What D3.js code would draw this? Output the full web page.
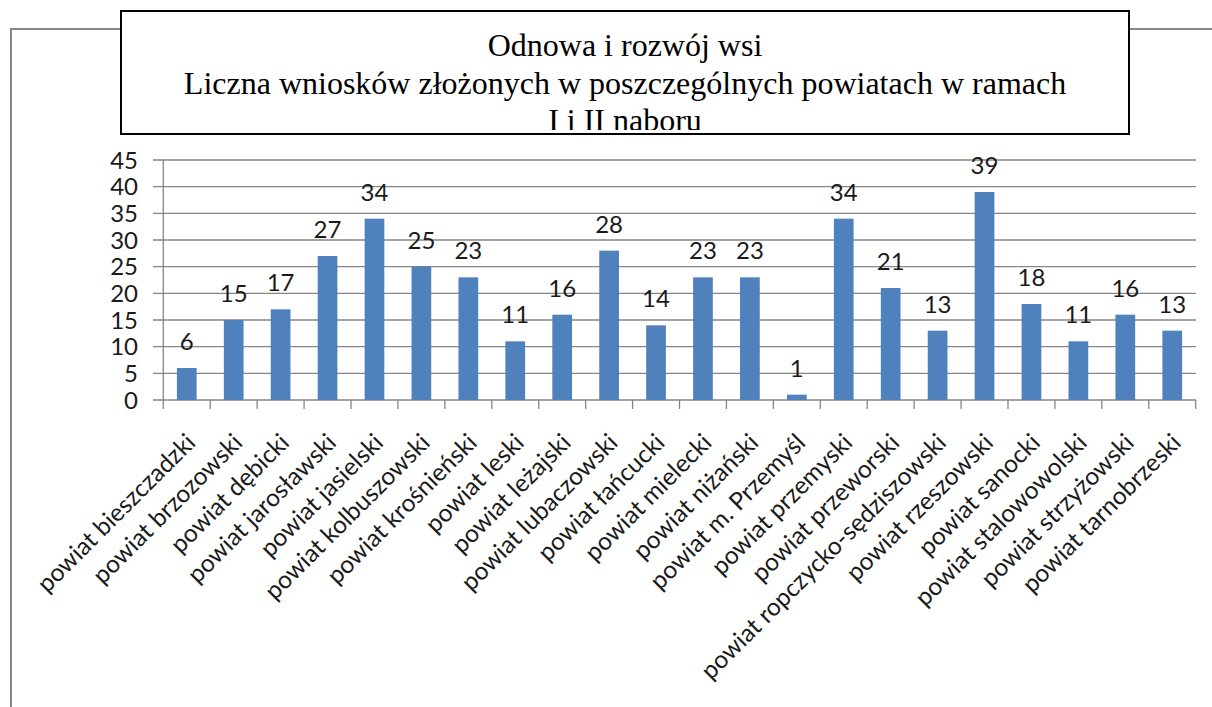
<!DOCTYPE html>
<html>
<head>
<meta charset="utf-8">
<script src="https://cdn.jsdelivr.net/npm/d3@7"></script>
<style>
  html, body { margin: 0; padding: 0; background: #fff; }
  svg { display: block; }
</style>
</head>
<body>
<svg id="chart" width="1212" height="707"></svg>
<script>
// dane z wykresu
var powiaty = ["powiat bieszczadzki", "powiat brzozowski", "powiat dębicki", "powiat jarosławski",
  "powiat jasielski", "powiat kolbuszowski", "powiat krośnieński", "powiat leski", "powiat leżajski",
  "powiat lubaczowski", "powiat łańcucki", "powiat mielecki", "powiat niżański", "powiat m.  Przemyśl",
  "powiat przemyski", "powiat przeworski", "powiat ropczycko-sędziszowski", "powiat rzeszowski",
  "powiat sanocki", "powiat stalowowolski", "powiat strzyżowski", "powiat tarnobrzeski"];
var wnioski = [6, 15, 17, 27, 34, 25, 23, 11, 16, 28, 14, 23, 23, 1, 34, 21, 13, 39, 18, 11, 16, 13];
var yTicks = [0, 5, 10, 15, 20, 25, 30, 35, 40, 45];
var tytul = ["Odnowa i rozwój wsi",
  "Liczna wniosków złożonych w poszczególnych powiatach w ramach",
  "I i II naboru"];

var svg = d3.select("#chart");
var gray = "#868686";
var font = "Lato, 'Open Sans', sans-serif";

// ramka wykresu
svg.append("rect")
  .attr("x", 11).attr("y", 29)
  .attr("width", 1220).attr("height", 700)
  .attr("fill", "none")
  .attr("stroke", gray)
  .attr("stroke-width", 2);

var x = d3.scaleBand()
  .domain(powiaty)
  .range([163.3, 1195.7])
  .paddingInner(0.58)
  .paddingOuter(0.29);

var y = d3.scaleLinear()
  .domain([0, 45])
  .range([400, 160]);

// siatka
svg.append("g")
  .selectAll("line")
  .data(yTicks)
  .join("line")
    .attr("x1", 153).attr("x2", 1196)
    .attr("y1", d => y(d)).attr("y2", d => y(d))
    .attr("stroke", gray)
    .attr("stroke-width", 1.3);

// os Y
svg.append("line")
  .attr("x1", 163.3).attr("x2", 163.3)
  .attr("y1", 160).attr("y2", 400)
  .attr("stroke", gray).attr("stroke-width", 1.3);

svg.append("g")
  .selectAll("text")
  .data(yTicks)
  .join("text")
    .attr("x", 138)
    .attr("y", d => y(d))
    .attr("dy", "0.36em")
    .attr("text-anchor", "end")
    .attr("font-family", font)
    .attr("font-size", 24)
    .attr("fill", "#1a1a1a")
    .text(d => d);

// os X - kreski
var step = x.step();
svg.append("g")
  .selectAll("line")
  .data(d3.range(powiaty.length + 1))
  .join("line")
    .attr("x1", i => 163.3 + i * step).attr("x2", i => 163.3 + i * step)
    .attr("y1", 400).attr("y2", 409)
    .attr("stroke", gray).attr("stroke-width", 1.3);

// slupki
svg.append("g")
  .selectAll("rect")
  .data(wnioski)
  .join("rect")
    .attr("x", (d, i) => x(powiaty[i]))
    .attr("y", d => y(d))
    .attr("width", x.bandwidth())
    .attr("height", d => y(0) - y(d))
    .attr("fill", "#4F81BD");

// etykiety wartosci
svg.append("g")
  .selectAll("text")
  .data(wnioski)
  .join("text")
    .attr("x", (d, i) => x(powiaty[i]) + x.bandwidth() / 2)
    .attr("y", d => y(d) - 18)
    .attr("text-anchor", "middle")
    .attr("font-family", font)
    .attr("font-size", 24)
    .attr("fill", "#1a1a1a")
    .text(d => d);

// etykiety kategorii
svg.append("g")
  .selectAll("text")
  .data(powiaty)
  .join("text")
    .attr("transform", d => "translate(" + (x(d) + x.bandwidth() / 2 - 2) + ",432) rotate(-45)")
    .attr("text-anchor", "end")
    .attr("dy", "0.7em")
    .attr("font-family", font)
    .attr("font-size", 24.5)
    .attr("fill", "#1a1a1a")
    .text(d => d);

// tytul w ramce
svg.append("clipPath").attr("id", "clipTitle")
  .append("rect").attr("x", 121).attr("y", 11).attr("width", 1008).attr("height", 119);

svg.append("rect")
  .attr("x", 121).attr("y", 11)
  .attr("width", 1008).attr("height", 123)
  .attr("fill", "#fff")
  .attr("stroke", "#000")
  .attr("stroke-width", 2);

svg.append("g")
  .attr("clip-path", "url(#clipTitle)")
  .selectAll("text")
  .data(tytul)
  .join("text")
    .attr("x", 625)
    .attr("y", (d, i) => 56 + i * 37.5)
    .attr("text-anchor", "middle")
    .attr("font-family", "'Liberation Serif', 'Times New Roman', serif")
    .attr("font-size", 32)
    .attr("fill", "#000")
    .text(d => d);
</script>
</body>
</html>
